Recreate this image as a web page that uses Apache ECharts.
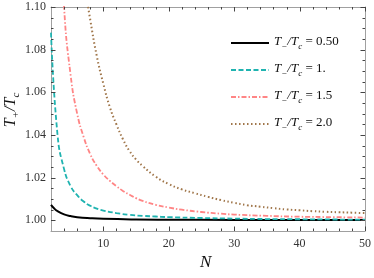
<!DOCTYPE html>
<html><head><meta charset="utf-8">
<script src="https://cdn.jsdelivr.net/npm/echarts@6/dist/echarts.min.js"></script>
<style>html,body{margin:0;padding:0;background:#fff}#c{width:374px;height:278px}</style>
</head><body><div id="c"></div><div id="d" style="position:absolute;top:0;left:60px;font:10px sans-serif;color:red"></div>
<script>
// ---- data ----
const legendValues = ['0.50', '1.', '1.5', '2.0'];
const blackN = [2, 2.5, 3, 4, 5, 6, 8, 10, 15, 20, 30, 40, 50];
const blackV = [1.0072, 1.0055, 1.0043, 1.0028, 1.0020, 1.0015, 1.0010, 1.0007, 1.0004, 1.0003, 1.0002, 1.00015, 1.0001];
const tealN = [2, 3, 4, 5, 6, 7, 8, 9, 10, 12, 14, 16, 18, 20, 25, 30, 35, 40, 45, 50];
const tealV = [1.088, 1.040, 1.024, 1.016, 1.0118, 1.0088, 1.0068, 1.0055, 1.0046, 1.0034, 1.0026, 1.0021, 1.0018, 1.0015, 1.0011, 1.0008, 1.0006, 1.0005, 1.0004, 1.0003];
const pinkN = [3, 4, 5, 6, 7, 8, 9, 10, 11, 12, 13, 14, 15, 16, 18, 20, 22, 25, 28, 30, 35, 40, 45, 50];
const pinkV = [1.170, 1.100, 1.068, 1.050, 1.039, 1.031, 1.0255, 1.0215, 1.0185, 1.016, 1.0138, 1.012, 1.0104, 1.0091, 1.0073, 1.006, 1.0050, 1.0039, 1.0031, 1.0027, 1.0021, 1.0017, 1.0015, 1.0013];
const brownN = [7, 8, 9, 10, 11, 12, 13, 14, 15, 16, 18, 20, 22, 24, 26, 28, 30, 32, 34, 36, 38, 40, 42, 44, 46, 48, 50];
const brownV = [1.113, 1.094, 1.077, 1.064, 1.053, 1.045, 1.038, 1.0325, 1.0285, 1.0255, 1.0205, 1.0170, 1.0145, 1.0127, 1.0110, 1.0095, 1.0082, 1.0071, 1.0064, 1.0057, 1.0051, 1.0047, 1.0043, 1.0040, 1.0038, 1.0036, 1.0034];
const xMajor = [10, 20, 30, 40, 50];
const xMinor = [4, 6, 8, 12, 14, 16, 18, 22, 24, 26, 28, 32, 34, 36, 38, 42, 44, 46, 48];
const yMajor = [1.00, 1.02, 1.04, 1.06, 1.08, 1.10];
const yMinor = [1.005, 1.01, 1.015, 1.025, 1.03, 1.035, 1.045, 1.05, 1.055, 1.065, 1.07, 1.075, 1.085, 1.09, 1.095];

(function () {
const X_MIN = 2, X_MAX = 50, X_STEP = 2;
const Y_MIN = 0.995, Y_MAX = 1.10, Y_STEP = 0.005;
const SERIF = '"Liberation Serif","DejaVu Serif",serif';
const frame = '#a0a0a0', tickCol = '#444';
const MAJ = 4.5, MIN_LEN = 2.5;

function zip(a, b) { return a.map((v, i) => [v, b[i]]); }
function isMajor(v, list) { return list.some(m => Math.abs(m - v) < 1e-7); }

function xAx(pos, labels) {
  return {
    type: 'value', position: pos, min: X_MIN, max: X_MAX, interval: X_STEP,
    axisLine: { show: true, onZero: false, lineStyle: { color: frame, width: 1 } },
    splitLine: { show: false },
    axisTick: { show: false },
    axisLabel: { show: labels, margin: 7, fontFamily: SERIF, fontSize: 12, color: '#333',
      formatter: v => isMajor(v, xMajor) ? String(Math.round(v)) : '' }
  };
}
function yAx(pos, labels) {
  return {
    type: 'value', position: pos, min: Y_MIN, max: Y_MAX, interval: Y_STEP,
    axisLine: { show: true, onZero: false, lineStyle: { color: frame, width: 1 } },
    splitLine: { show: false },
    axisTick: { show: false },
    axisLabel: { show: labels, margin: 5, fontFamily: SERIF, fontSize: 12, color: '#333',
      formatter: v => isMajor(v, yMajor) ? v.toFixed(2) : '' }
  };
}

// tick data: [value, 0 = x tick / 1 = y tick, length]
const tickData = []
  .concat(xMajor.map(v => [v, 0, MAJ]))
  .concat(xMinor.map(v => [v, 0, MIN_LEN]))
  .concat(yMajor.map(v => [v, 1, MAJ]))
  .concat(yMinor.map(v => [v, 1, MIN_LEN]));

function renderTick(params, api) {
  const v = api.value(0), kind = api.value(1), len = api.value(2);
  const st = { stroke: tickCol, lineWidth: 1 };
  if (kind === 0) {
    const b = api.coord([v, Y_MIN]), t = api.coord([v, Y_MAX]);
    const x = Math.round(b[0]) + 0.5;
    return { type: 'group', children: [
      { type: 'line', shape: { x1: x, y1: b[1], x2: x, y2: b[1] - len }, style: st },
      { type: 'line', shape: { x1: x, y1: t[1], x2: x, y2: t[1] + len }, style: st }
    ] };
  } else {
    const l = api.coord([X_MIN, v]), r = api.coord([X_MAX, v]);
    const y = Math.round(l[1]) + 0.5;
    return { type: 'group', children: [
      { type: 'line', shape: { x1: l[0], y1: y, x2: l[0] + len, y2: y }, style: st },
      { type: 'line', shape: { x1: r[0], y1: y, x2: r[0] - len, y2: y }, style: st }
    ] };
  }
}

const chart = echarts.init(document.getElementById('c'), null, { renderer: 'canvas' });
const names = ['s0', 's1', 's2', 's3'];
const option = {
  animation: false,
  backgroundColor: '#fff',
  grid: { left: 51, right: 6, top: 7, bottom: 47 },
  xAxis: [xAx('bottom', true), xAx('top', false)],
  yAxis: [yAx('left', true), yAx('right', false)],
  legend: {
    orient: 'vertical', left: 225, top: 30, itemWidth: 38, itemHeight: 14, itemGap: 11,
    data: names,
    itemStyle: { opacity: 0 },
    formatter: function (name) {
      const i = names.indexOf(name);
      return '{i|T}{s|\u2212}{i|/T}{s|c}{n| = ' + legendValues[i] + '}';
    },
    textStyle: {
      rich: {
        i: { fontFamily: SERIF, fontStyle: 'italic', fontSize: 13, color: '#111', verticalAlign: 'bottom', padding: [0, 0, 3, 0] },
        s: { fontFamily: SERIF, fontStyle: 'italic', fontSize: 9, color: '#111', verticalAlign: 'bottom' },
        n: { fontFamily: SERIF, fontSize: 13, color: '#111', verticalAlign: 'bottom', padding: [0, 0, 3, 0] }
      }
    }
  },
  graphic: [
    { type: 'text', left: 200, top: 254, style: { text: 'N', fontFamily: SERIF, fontStyle: 'italic', fontSize: 17, fill: '#111' } },
    { type: 'text', x: 12, y: 110, rotation: Math.PI / 2,
      style: { text: '{i|T}{s|+}{i|/T}{s|c}', align: 'center', verticalAlign: 'middle',
        rich: {
          i: { fontFamily: SERIF, fontStyle: 'italic', fontSize: 16, fill: '#111', verticalAlign: 'bottom', padding: [0, 0, 3, 0] },
          s: { fontFamily: SERIF, fontStyle: 'italic', fontSize: 11, fill: '#111', verticalAlign: 'bottom' }
        } } }
  ],
  series: [
    { name: 's0', type: 'line', data: zip(blackN, blackV), smooth: true, symbol: 'none', clip: true,
      lineStyle: { color: '#000', width: 2, type: 'solid' }, itemStyle: { color: '#000' } },
    { name: 's1', type: 'line', data: zip(tealN, tealV), smooth: true, symbol: 'none', clip: true,
      lineStyle: { color: '#1fb3b0', width: 1.8, type: [5, 2.5] }, itemStyle: { color: '#1fb3b0' } },
    { name: 's2', type: 'line', data: zip(pinkN, pinkV), smooth: true, symbol: 'none', clip: true,
      lineStyle: { color: '#ff8585', width: 1.8, type: [5, 2, 1.5, 2] }, itemStyle: { color: '#ff8585' } },
    { name: 's3', type: 'line', data: zip(brownN, brownV), smooth: true, symbol: 'none', clip: true,
      lineStyle: { color: '#a0764a', width: 2, type: [1.5, 2.5] }, itemStyle: { color: '#a0764a' } },
    { name: 'ticks', type: 'custom', data: tickData, renderItem: renderTick, clip: false, silent: true, z: 10,
      dimensions: ['v', 'k', 'len'], encode: { x: 0, y: -1 } }
  ]
};
try { chart.setOption(option); } catch (e) { document.getElementById('d').textContent = 'ERR ' + e.message; }
})();
</script></body></html>
